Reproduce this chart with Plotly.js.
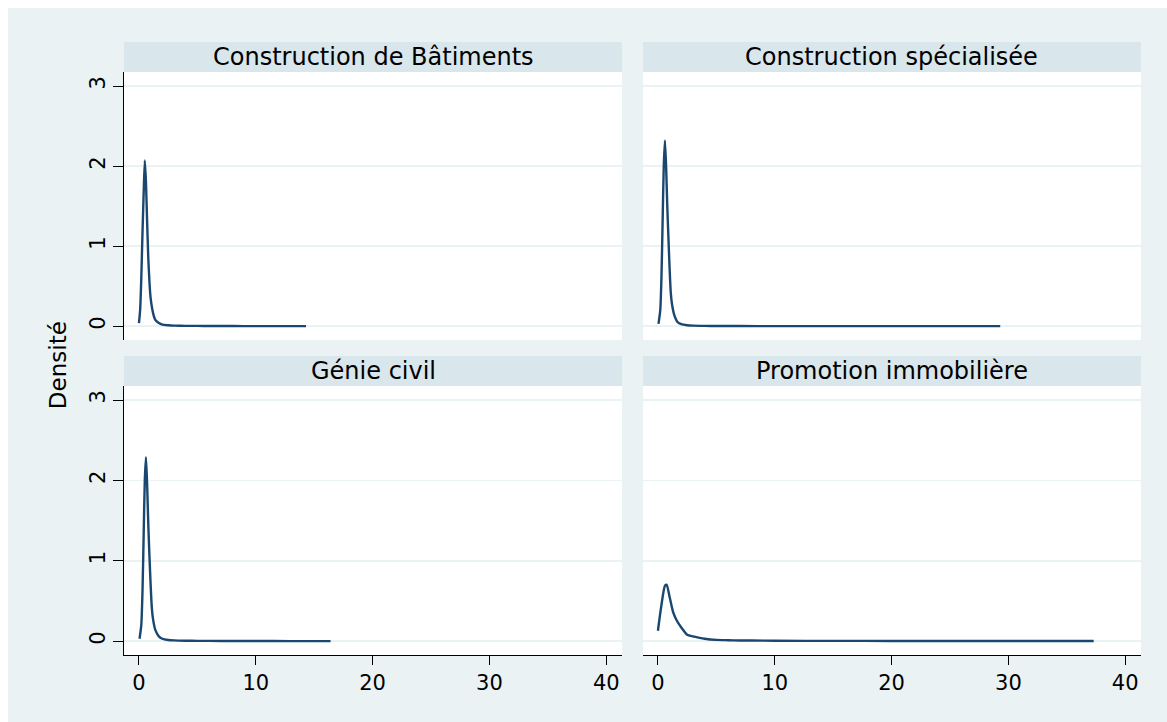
<!DOCTYPE html>
<html><head><meta charset="utf-8">
<script src="https://cdn.plot.ly/plotly-3.0.1.min.js"></script>
<style>html,body{margin:0;padding:0;background:#ffffff;}#chart{position:absolute;left:8px;top:8px;width:1159px;height:714px;}</style>
</head><body><div id="chart"></div>
<script>
// Panel titles
const panelTitles = ["Construction de Bâtiments", "Construction spécialisée", "Génie civil", "Promotion immobilière"];
const yAxisTitle = "Densité";
const xTickVals = [0, 10, 20, 30, 40];
const yTickVals = [0, 1, 2, 3];

// Construction de Bâtiments
const batX = [0.0, 0.1, 0.2, 0.3, 0.4, 0.5, 0.6, 0.7, 0.8, 0.9, 1.0, 1.2, 1.4, 1.7, 2.0, 2.5, 3, 4, 5, 6, 8, 10, 12, 14.3];
const batY = [0.04, 0.2, 0.6, 1.15, 1.65, 2.07, 1.8, 1.3, 0.85, 0.55, 0.35, 0.17, 0.08, 0.04, 0.02, 0.012, 0.008, 0.005, 0.004, 0.003, 0.002, 0.001, 0.001, 0.001];

// Construction spécialisée
const speX = [0.05, 0.2, 0.3, 0.4, 0.5, 0.6, 0.7, 0.8, 0.9, 1.0, 1.1, 1.2, 1.4, 1.7, 2.0, 2.5, 3, 4, 5, 7, 10, 15, 20, 25, 29.3];
const speY = [0.03, 0.2, 0.6, 1.3, 2.0, 2.32, 2.0, 1.5, 1.1, 0.72, 0.42, 0.28, 0.14, 0.05, 0.025, 0.012, 0.007, 0.004, 0.003, 0.002, 0.001, 0.001, 0.001, 0.001, 0.001];

// Génie civil
const genX = [0.05, 0.2, 0.3, 0.4, 0.5, 0.6, 0.7, 0.8, 0.9, 1.0, 1.1, 1.2, 1.4, 1.7, 2.0, 2.5, 3, 4, 5, 7, 10, 13, 16.4];
const genY = [0.03, 0.2, 0.6, 1.3, 2.0, 2.29, 1.95, 1.45, 1.05, 0.7, 0.42, 0.28, 0.14, 0.06, 0.03, 0.015, 0.01, 0.006, 0.004, 0.003, 0.002, 0.001, 0.001];

// Promotion immobilière
const proX = [0.0, 0.3, 0.6, 0.75, 1.0, 1.3, 1.6, 2.0, 2.5, 3, 4, 5, 6, 7, 8, 10, 15, 20, 25, 30, 37.3];
const proY = [0.13, 0.45, 0.69, 0.7, 0.55, 0.36, 0.26, 0.17, 0.08, 0.06, 0.03, 0.016, 0.012, 0.009, 0.008, 0.005, 0.004, 0.003, 0.003, 0.002, 0.002];

const lineColor = "#1a476f";
const seriesX = [batX, speX, genX, proX];
const seriesY = [batY, speY, genY, proY];
const axisNames = [["x", "y"], ["x2", "y2"], ["x3", "y3"], ["x4", "y4"]];

const traces = seriesX.map((xs, i) => ({
  x: xs, y: seriesY[i], type: "scatter", mode: "lines",
  line: {color: lineColor, width: 2.4, shape: "spline", smoothing: 0.6},
  xaxis: axisNames[i][0], yaxis: axisNames[i][1], hoverinfo: "skip", showlegend: false
}));

const font = {family: "DejaVu Sans, Liberation Sans, Arial, sans-serif", color: "#000000"};
const xL = [0, 0.4897], xR = [0.5103, 1];
const yT = [0.5403, 1], yB = [0, 0.4614];
const xRange = [-1.28, 41.35];
const yRange = [-0.172, 3.175];

function xa(domain, anchor, show) {
  return {domain: domain, anchor: anchor, range: xRange, tickvals: xTickVals,
    showticklabels: show, showline: show, linecolor: "#000000", linewidth: 1,
    ticks: show ? "outside" : "", ticklen: 9, tickcolor: "#000000", tickwidth: 1,
    showgrid: false, zeroline: false, fixedrange: true,
    tickfont: Object.assign({size: 21}, font)};
}
function ya(domain, anchor, show) {
  return {domain: domain, anchor: anchor, range: yRange, tickvals: yTickVals,
    showticklabels: show, showline: show, linecolor: "#000000", linewidth: 1,
    ticks: show ? "outside" : "", ticklen: 10, tickcolor: "#000000", tickwidth: 1,
    tickangle: -90, showgrid: true, gridcolor: "#eaf2f3", gridwidth: 1.5,
    zeroline: false, fixedrange: true,
    tickfont: Object.assign({size: 21}, font)};
}

const stripColor = "#d9e6eb";
const shapes = [];
const annotations = [];
const doms = [[xL, yT], [xR, yT], [xL, yB], [xR, yB]];
doms.forEach((d, i) => {
  const top = d[1][1] + 0.0515;
  shapes.push({type: "rect", xref: "paper", yref: "paper", x0: d[0][0], x1: d[0][1],
    y0: d[1][1], y1: top, fillcolor: stripColor, line: {width: 0}, layer: "below"});
  annotations.push({xref: "paper", yref: "paper", x: (d[0][0] + d[0][1]) / 2,
    y: (d[1][1] + top) / 2, text: panelTitles[i], showarrow: false,
    xanchor: "center", yanchor: "middle", font: Object.assign({size: 24}, font)});
});
annotations.push({xref: "paper", yref: "paper", x: -0.065, y: 0.497, text: yAxisTitle,
  textangle: -90, showarrow: false, xanchor: "center", yanchor: "middle",
  font: Object.assign({size: 23}, font)});

const layout = {
  width: 1159, height: 714,
  margin: {l: 116, r: 26, t: 64, b: 67},
  paper_bgcolor: "#eaf2f3", plot_bgcolor: "#ffffff",
  showlegend: false, font: font,
  xaxis: xa(xL, "y", false), yaxis: ya(yT, "x", true),
  xaxis2: xa(xR, "y2", false), yaxis2: ya(yT, "x2", false),
  xaxis3: xa(xL, "y3", true), yaxis3: ya(yB, "x3", true),
  xaxis4: xa(xR, "y4", true), yaxis4: ya(yB, "x4", false),
  shapes: shapes, annotations: annotations
};
Plotly.newPlot("chart", traces, layout, {displayModeBar: false, staticPlot: true});
</script></body></html>
